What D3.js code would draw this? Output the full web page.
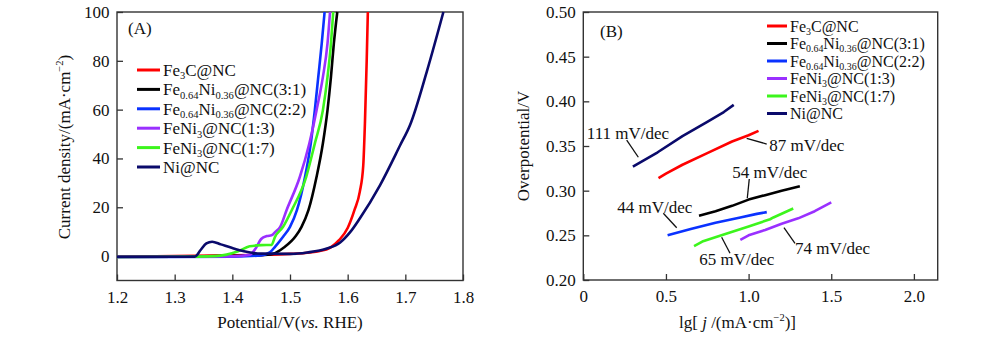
<!DOCTYPE html>
<html><head><meta charset="utf-8">
<script src="https://cdn.jsdelivr.net/npm/d3@7"></script>
<style>
body{margin:0;background:#fff;}
svg text{font-family:"Liberation Serif","Times New Roman",serif;fill:#111;}
</style></head>
<body><svg id="c" width="1000" height="337"></svg>
<script>
// ---------- DATA ----------
const seriesKeys = ["Fe3C","FeNi31","FeNi22","FeNi13","FeNi17","Ni"];
// Panel A: LSV [potential V, current density mA/cm2]
const lsvFe3C = [[1.20,-0.3],[1.30,0],[1.40,0.3],[1.45,0.5],[1.50,0.9],[1.535,1.5],[1.55,2.0],[1.57,3.5],[1.585,6.5],[1.60,11.5],[1.612,19],[1.621,26.3],[1.627,37],[1.630,55],[1.633,80],[1.635,100]];
const lsvFeNi31 = [[1.20,-0.4],[1.30,-0.3],[1.40,0.1],[1.45,0.4],[1.47,0.9],[1.49,3.6],[1.51,8.2],[1.52,12],[1.532,18.8],[1.546,32.4],[1.557,46.1],[1.565,59.7],[1.571,73.3],[1.576,87],[1.582,100]];
const lsvFeNi22 = [[1.20,-0.4],[1.30,-0.4],[1.40,-0.2],[1.45,0.3],[1.465,1.5],[1.474,3.8],[1.488,7.9],[1.50,12],[1.512,18.8],[1.526,32.4],[1.536,46.1],[1.543,59.7],[1.549,73.3],[1.555,87],[1.56,100]];
const lsvFeNi13 = [[1.20,-0.4],[1.30,-0.3],[1.40,-0.1],[1.43,0.5],[1.44,3],[1.45,7],[1.46,8.2],[1.468,8.5],[1.475,10],[1.483,12],[1.494,18.8],[1.517,32.4],[1.5335,46.1],[1.546,59.7],[1.557,73.3],[1.565,87],[1.5694,100]];
const lsvFeNi17 = [[1.20,-0.4],[1.30,-0.3],[1.37,0],[1.39,0.6],[1.41,2.0],[1.43,4.0],[1.45,4.5],[1.468,4.6],[1.474,7.9],[1.488,12],[1.503,18.8],[1.528,32.4],[1.543,46.1],[1.557,59.7],[1.565,73.3],[1.571,87],[1.575,100]];
const lsvNi = [[1.20,-0.3],[1.30,-0.3],[1.335,-0.2],[1.345,2.5],[1.355,5.2],[1.365,5.9],[1.38,4.8],[1.40,3.3],[1.42,2.0],[1.45,1.0],[1.50,0.9],[1.53,1.5],[1.564,3.1],[1.587,5.6],[1.605,10],[1.621,15.4],[1.656,29],[1.691,45.4],[1.708,53.6],[1.737,75.4],[1.766,100]];
// Panel B: Tafel [lg j, overpotential V]
const tafelFe3C = [[0.455,0.314],[0.50,0.319],[0.60,0.329],[0.75,0.342],[0.90,0.355],[1.0,0.362],[1.06,0.367]];
const tafelFeNi31 = [[0.70,0.272],[0.80,0.277],[0.90,0.283],[1.0,0.290],[1.1,0.295],[1.2,0.300],[1.31,0.305]];
const tafelFeNi22 = [[0.51,0.250],[0.65,0.257],[0.80,0.264],[0.95,0.270],[1.05,0.274],[1.11,0.276]];
const tafelFeNi13 = [[0.95,0.245],[1.0,0.250],[1.1,0.256],[1.2,0.263],[1.3,0.269],[1.4,0.277],[1.5,0.287]];
const tafelFeNi17 = [[0.67,0.238],[0.72,0.243],[0.85,0.251],[1.0,0.260],[1.13,0.268],[1.15,0.270],[1.27,0.280]];
const tafelNi = [[0.30,0.327],[0.45,0.343],[0.60,0.361],[0.75,0.377],[0.85,0.388],[0.91,0.396]];
const tafelSlopes = ["87 mV/dec","54 mV/dec","44 mV/dec","74 mV/dec","65 mV/dec","111 mV/dec"];
const ticksA_x = [1.2,1.3,1.4,1.5,1.6,1.7,1.8];
const ticksA_y = [0,20,40,60,80,100];
const ticksB_x = [0,0.5,1.0,1.5,2.0];
const ticksB_xLabels = ["0","0.5","1.0","1.5","2.0"];
const ticksB_y = [0.20,0.25,0.30,0.35,0.40,0.45,0.50];
// legend labels: [text, isSubscript]
const legendParts = [
  [["Fe",0],["3",1],["C@NC",0]],
  [["Fe",0],["0.64",1],["Ni",0],["0.36",1],["@NC(3:1)",0]],
  [["Fe",0],["0.64",1],["Ni",0],["0.36",1],["@NC(2:2)",0]],
  [["FeNi",0],["3",1],["@NC(1:3)",0]],
  [["FeNi",0],["3",1],["@NC(1:7)",0]],
  [["Ni@NC",0]]
];

// ---------- STYLE / LAYOUT ----------
const colors = ["#ff0000","#000000","#0a32ff","#9a30ff","#3cf51c","#0a0a6b"];
const lsvData = [lsvFe3C,lsvFeNi31,lsvFeNi22,lsvFeNi13,lsvFeNi17,lsvNi];
const tafelData = [tafelFe3C,tafelFeNi31,tafelFeNi22,tafelFeNi13,tafelFeNi17,tafelNi];
const annLayout = [
  {t:[1.125,0.3511], a:[0.9885,0.3586], b:[1.1095,0.3522]},
  {t:[0.901,0.3212], a:[1.004,0.3131], b:[0.992,0.2915]},
  {t:[0.2057,0.2814], a:[0.484,0.2747], b:[0.565,0.2585]},
  {t:[1.2807,0.2355], a:[1.214,0.2585], b:[1.2807,0.2411]},
  {t:[0.7017,0.2232], a:[0.837,0.2478], b:[0.8875,0.2299]},
  {t:[0.021,0.3649], a:[0.2625,0.3567], b:[0.333,0.3374]}
];

const svg = d3.select("#c");
const FS = 17;

function drawPanel(opt){
  const g = svg.append("g");
  const x = d3.scaleLinear().domain(opt.xd).range([opt.l,opt.r]);
  const y = d3.scaleLinear().domain(opt.yd).range([opt.b,opt.t]);
  const ax = d3.axisBottom(x).tickValues(opt.xt).tickSizeInner(-6).tickSizeOuter(0).tickPadding(10)
     .tickFormat((d,i)=>opt.xfmt(d,i));
  const ay = d3.axisLeft(y).tickValues(opt.yt).tickSizeInner(-6).tickSizeOuter(0).tickPadding(7.5)
     .tickFormat(opt.yfmt);
  const gx = g.append("g").attr("transform",`translate(0,${opt.b})`).call(ax);
  const gy = g.append("g").attr("transform",`translate(${opt.l},0)`).call(ay);
  [gx,gy].forEach(a=>{
    a.select(".domain").remove();
    a.selectAll("line").attr("stroke","#333").attr("stroke-width",1.3);
    a.selectAll("text").attr("font-size",FS).attr("font-family","Liberation Serif").attr("fill","#111");
  });
  g.append("rect").attr("x",opt.l).attr("y",opt.t).attr("width",opt.r-opt.l).attr("height",opt.b-opt.t)
    .attr("fill","none").attr("stroke","#333").attr("stroke-width",1.4);
  return {g,x,y};
}

function legend(g, x0, y0, dy, len, fs, sub){
  legendParts.forEach((parts,i)=>{
    const yy = y0 + i*dy;
    g.append("line").attr("x1",x0).attr("x2",x0+len).attr("y1",yy).attr("y2",yy)
      .attr("stroke",colors[i]).attr("stroke-width",3);
    const t = g.append("text").attr("x",x0+len+3).attr("y",yy+fs*0.35).attr("font-size",fs);
    let cur = 0;
    parts.forEach(([s,isSub])=>{
      const target = isSub ? sub : 0;
      const sp = t.append("tspan").attr("dy",target-cur).text(s);
      if(isSub) sp.attr("font-size",fs*0.62);
      cur = target;
    });
  });
}

// Panel A
const A = drawPanel({xd:[1.2,1.8], yd:[-10,100], l:117, r:463, t:12, b:280.5,
  xt:ticksA_x, yt:ticksA_y, xfmt:d3.format(".1f"), yfmt:d3.format("d")});
const lineA = d3.line().x(d=>A.x(d[0])).y(d=>A.y(d[1])).curve(d3.curveMonotoneX);
lsvData.forEach((s,i)=>{
  A.g.append("path").datum(s).attr("d",lineA).attr("fill","none")
    .attr("stroke",colors[i]).attr("stroke-width",2.6).attr("stroke-linejoin","round");
});
A.g.append("text").attr("x",128).attr("y",34).attr("font-size",FS).text("(A)");
legend(A.g, 137, 70, 19.4, 23, FS, 3.5);
A.g.append("text").attr("x",290).attr("y",328).attr("text-anchor","middle").attr("font-size",FS)
  .call(t=>{t.append("tspan").text("Potential/V(");t.append("tspan").attr("font-style","italic").text("vs.");t.append("tspan").text(" RHE)");});
A.g.append("text").attr("transform","translate(70,147) rotate(-90)").attr("text-anchor","middle").attr("font-size",FS)
  .call(t=>{t.append("tspan").text("Current density/(mA·cm");t.append("tspan").attr("font-size",FS*0.62).attr("dy",-7).text("−2");t.append("tspan").attr("dy",7).text(")");});

// Panel B
const B = drawPanel({xd:[0,2.144], yd:[0.2,0.5], l:583.3, r:937.7, t:12, b:280,
  xt:ticksB_x, yt:ticksB_y, xfmt:(d,i)=>ticksB_xLabels[i], yfmt:d3.format(".2f")});
const lineB = d3.line().x(d=>B.x(d[0])).y(d=>B.y(d[1]));
tafelData.forEach((s,i)=>{
  B.g.append("path").datum(s).attr("d",lineB).attr("fill","none")
    .attr("stroke",colors[i]).attr("stroke-width",2.6).attr("stroke-linejoin","round");
});
tafelSlopes.forEach((lab,i)=>{
  const L = annLayout[i];
  B.g.append("line").attr("x1",B.x(L.a[0])).attr("y1",B.y(L.a[1])).attr("x2",B.x(L.b[0])).attr("y2",B.y(L.b[1]))
    .attr("stroke","#111").attr("stroke-width",1.3);
  B.g.append("text").attr("x",B.x(L.t[0])).attr("y",B.y(L.t[1])+6).attr("font-size",FS).text(lab);
});
B.g.append("text").attr("x",600).attr("y",37).attr("font-size",FS).text("(B)");
legend(B.g, 767, 26, 17.5, 20, 16, 3);
B.g.append("text").attr("transform","translate(529,146) rotate(-90)").attr("text-anchor","middle").attr("font-size",FS).text("Overpotential/V");
B.g.append("text").attr("x",737.5).attr("y",328).attr("text-anchor","middle").attr("font-size",FS)
  .call(t=>{t.append("tspan").text("lg[ ");t.append("tspan").attr("font-style","italic").text("j");
    t.append("tspan").text(" /(mA·cm");t.append("tspan").attr("font-size",FS*0.62).attr("dy",-7).text("−2");t.append("tspan").attr("dy",7).text(")]");});
</script></body></html>
